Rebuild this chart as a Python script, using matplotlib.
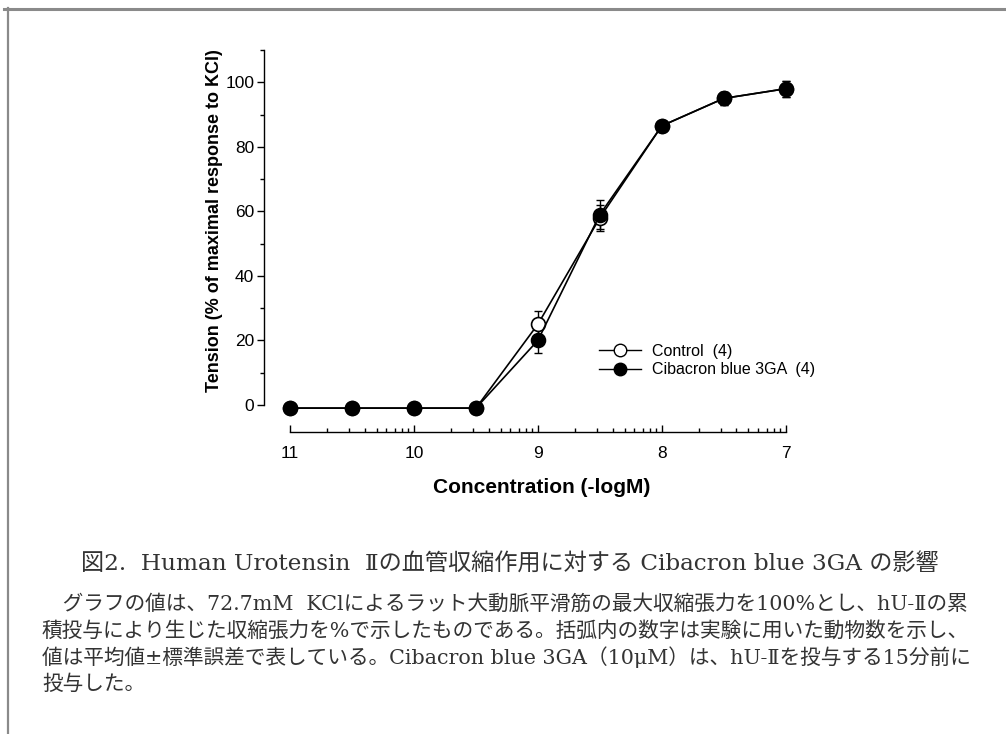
import matplotlib
matplotlib.use("Agg")
import matplotlib.pyplot as plt
from matplotlib.lines import Line2D
from matplotlib.ticker import FixedLocator, FixedFormatter, NullFormatter, MultipleLocator
import numpy as np

# ---- data ----
neg_log_conc = [11, 10.5, 10, 9.5, 9, 8.5, 8, 7.5, 7]
control = [-1, -1, -1, -1, 25, 58, 86.5, 95, 98]
control_err = [0, 0, 0, 0, 4, 4, 1, 2, 2.5]
cibacron = [-1, -1, -1, -1, 20, 59, 86.5, 95, 98]
cibacron_err = [0, 0, 0, 0, 4, 4.5, 1, 2, 2.5]
x_tick_vals = [11, 10, 9, 8, 7]
x_tick_labels = ["11", "10", "9", "8", "7"]
y_ticks = [0, 20, 40, 60, 80, 100]
legend_labels = ["Control  (4)", "Cibacron blue 3GA  (4)"]

title_text = "図2.  Human Urotensin  Ⅱの血管収縮作用に対する Cibacron blue 3GA の影響"
body_lines = [
    "　グラフの値は、72.7mM  KClによるラット大動脈平滑筋の最大収縮張力を100%とし、hU-Ⅱの累",
    "積投与により生じた収縮張力を%で示したものである。括弧内の数字は実験に用いた動物数を示し、",
    "値は平均値±標準誤差で表している。Cibacron blue 3GA（10μM）は、hU-Ⅱを投与する15分前に",
    "投与した。",
]

W, H = 1006, 734
fig = plt.figure(figsize=(W / 100, H / 100), dpi=100)
plt.rcParams['font.family'] = ['Liberation Sans', 'DejaVu Sans']

def fx(px):
    return px / W

def fy(py):
    return 1 - py / H

ax = fig.add_axes([fx(264), fy(432), fx(787) - fx(264), fy(50) - fy(432)])

conc = [10 ** (-v) for v in neg_log_conc]
ax.set_xscale('log')

ax.errorbar(conc, control, yerr=control_err, fmt='none', ecolor='black',
            elinewidth=1.0, capsize=3, capthick=1.0, zorder=2, clip_on=False)
ax.errorbar(conc, cibacron, yerr=cibacron_err, fmt='none', ecolor='black',
            elinewidth=1.0, capsize=3, capthick=1.0, zorder=2, clip_on=False)
ax.plot(conc, control, '-', color='black', lw=1.2, marker='o', ms=10,
        mfc='white', mec='black', mew=1.2, zorder=3, clip_on=False)
ax.plot(conc, cibacron, '-', color='black', lw=1.2, marker='o', ms=10,
        mfc='black', mec='black', mew=1.2, zorder=4, clip_on=False)

ax.set_xlim(10 ** -11.21, 10 ** -6.99)
ax.set_ylim(-8.4, 110)

for s in ['top', 'right']:
    ax.spines[s].set_visible(False)
ax.spines['left'].set_bounds(0, 110)
ax.spines['bottom'].set_bounds(1e-11, 1e-7)
ax.spines['left'].set_linewidth(1.0)
ax.spines['bottom'].set_linewidth(1.0)

ax.yaxis.set_major_locator(FixedLocator(y_ticks))
ax.yaxis.set_minor_locator(MultipleLocator(10))
ax.tick_params(axis='y', which='major', direction='out', length=5, width=1.0,
               labelsize=12.5, pad=2)
ax.tick_params(axis='y', which='minor', direction='out', length=3, width=1.0)

ax.xaxis.set_major_locator(FixedLocator([10 ** (-v) for v in x_tick_vals]))
ax.xaxis.set_major_formatter(FixedFormatter(x_tick_labels))
decades = range(-11, -7)
minor_pos = [m * 10.0 ** d for d in decades for m in range(2, 10)]
ax.xaxis.set_minor_locator(FixedLocator(minor_pos))
ax.xaxis.set_minor_formatter(NullFormatter())
ax.tick_params(axis='x', which='major', direction='in', length=5, width=1.0,
               labelsize=12.5, pad=10)
ax.tick_params(axis='x', which='minor', direction='in', length=3, width=1.0)

ax.set_ylabel("Tension (% of maximal response to KCl)", fontsize=13, fontweight='bold')
ax.yaxis.set_label_coords(-0.079, 0.553)
ax.set_xlabel("Concentration (-logM)", fontsize=15, fontweight='bold')
ax.xaxis.set_label_coords(0.53, -0.12)

handles = [
    Line2D([], [], color='black', lw=1.0, marker='o', ms=9, mfc='white', mec='black'),
    Line2D([], [], color='black', lw=1.0, marker='o', ms=9, mfc='black', mec='black'),
]
fig.legend(handles, legend_labels, loc='upper left',
           bbox_to_anchor=(fx(591), fy(336)), frameon=False, fontsize=11.5,
           handlelength=2.6, handletextpad=0.7, labelspacing=0.2, borderpad=0)

# ---- frame lines ----
fig.add_artist(Line2D([fx(4), 1], [fy(8.5), fy(8.5)], color='#8a8a8a', lw=2.2))
fig.add_artist(Line2D([fx(7.5), fx(7.5)], [fy(8), 0], color='#8a8a8a', lw=1.6))

# ---- caption ----
cap_family = ['DejaVu Serif', 'Noto Sans CJK JP', 'DejaVu Sans']
fig.text(fx(510), fy(565), title_text, ha='center', va='center', fontsize=16.7,
         family=cap_family, color='#333333')
line_y = [604, 631, 657, 684]
for txt, yy in zip(body_lines, line_y):
    fig.text(fx(42), fy(yy), txt, ha='left', va='center', fontsize=14.9,
             family=cap_family, color='#333333')

fig.savefig("out.png", dpi=100)
